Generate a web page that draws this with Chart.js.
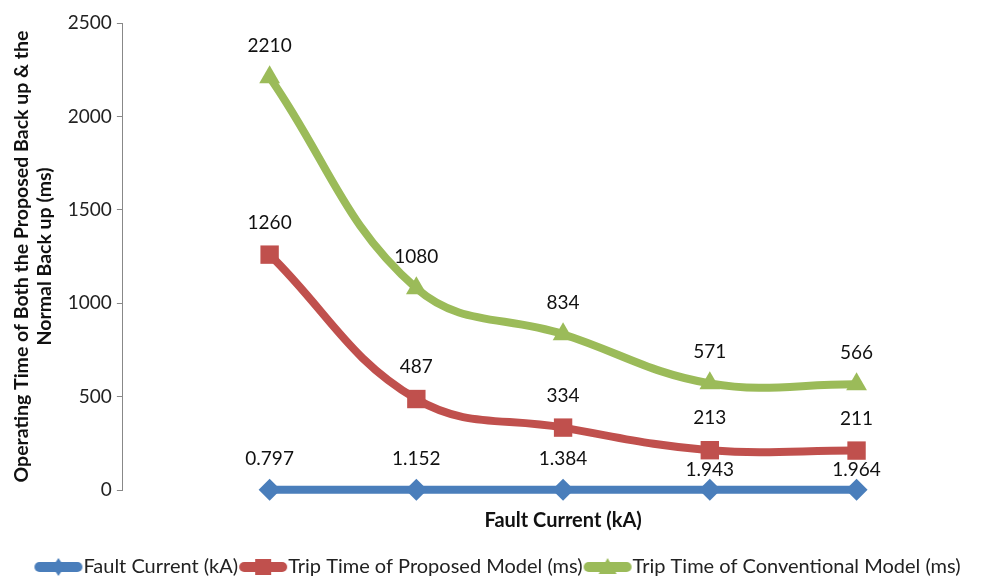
<!DOCTYPE html>
<html>
<head>
<meta charset="utf-8">
<script src="https://cdn.jsdelivr.net/npm/chart.js@4"></script>
<style>
  html, body { margin: 0; padding: 0; background: #fff; }
  #wrap { width: 984px; height: 576px; overflow: hidden; }
</style>
</head>
<body>
<div id="wrap"><canvas id="trip_chart" width="984" height="587"></canvas></div>
<script>
// measurement positions along the x axis (1..5)
const positions = [1, 2, 3, 4, 5];
const faultCurrent = [0.797, 1.152, 1.384, 1.943, 1.964];
const proposedTrip = [1260, 487, 334, 213, 211];
const conventionalTrip = [2210, 1080, 834, 571, 566];
const yTicks = [0, 500, 1000, 1500, 2000, 2500];
const xTitle = 'Fault Current (kA)';

const FONT = 'Lato, "Open Sans", sans-serif';
const BLUE = '#4a7ebb';
const RED = '#c0504d';
const GREEN = '#9bbb59';

// legend swatch: thick line with the series marker in the middle.
// left 10px stay empty so the swatch sits right up against its text
function legendIcon(color, shape) {
    const c = document.createElement('canvas');
    c.width = 60; c.height = 20;
    const g = c.getContext('2d');
    g.strokeStyle = color;
    g.lineWidth = 10;
    g.lineCap = 'round';
    g.beginPath(); g.moveTo(16, 10); g.lineTo(54, 10); g.stroke();
    g.fillStyle = color;
    g.beginPath();
    const cx = 35;
    if (shape === 'rectRot') {
        g.moveTo(cx, 1); g.lineTo(cx + 6, 10); g.lineTo(cx, 19); g.lineTo(cx - 6, 10);
    } else if (shape === 'rect') {
        g.rect(cx - 8, 2, 16, 16);
    } else {
        g.moveTo(cx, 1); g.lineTo(cx + 9, 17); g.lineTo(cx - 9, 17);
    }
    g.closePath(); g.fill();
    return c;
}

const toPoints = (vals) => vals.map((v, i) => ({x: positions[i], y: v}));

// draws each point's value above it, and the x title under the middle point
const valueLabels = {
    id: 'valueLabels',
    afterDatasetsDraw(chart, args, opts) {
        const ctx = chart.ctx;
        ctx.save();
        ctx.font = '19px ' + FONT;
        ctx.fillStyle = '#111';
        ctx.textAlign = 'center';
        ctx.textBaseline = 'middle';
        chart.data.datasets.forEach((ds, di) => {
            const meta = chart.getDatasetMeta(di);
            const lift = opts.lift[di];
            meta.data.forEach((pt, i) => {
                const v = ds.data[i].y;
                const txt = di === 0 ? v.toFixed(3) : String(v);
                ctx.fillText(txt, pt.x, pt.y - lift[i]);
            });
        });
        const xs = chart.scales.x;
        ctx.font = 'bold 20px ' + FONT;
        ctx.fillText(xTitle, xs.getPixelForValue(positions[2]), chart.chartArea.bottom + 31);
        ctx.restore();
    }
};

const ctx = document.getElementById('trip_chart').getContext('2d');
const tripChart = new Chart(ctx, {
    type: 'line',
    data: {
        datasets: [
            {
                label: 'Fault Current (kA)',
                data: toPoints(faultCurrent),
                borderColor: BLUE,
                backgroundColor: BLUE,
                pointStyle: 'rectRot',
                pointRadius: 11,
                legendIcon: legendIcon(BLUE, 'rectRot'),
                clip: false,
                order: 3
            },
            {
                label: 'Trip Time of Proposed Model (ms)',
                data: toPoints(proposedTrip),
                borderColor: RED,
                backgroundColor: RED,
                pointStyle: 'rect',
                pointRadius: 13,
                legendIcon: legendIcon(RED, 'rect'),
                clip: false,
                order: 2
            },
            {
                label: 'Trip Time of Conventional Model (ms)',
                data: toPoints(conventionalTrip),
                borderColor: GREEN,
                backgroundColor: GREEN,
                pointStyle: 'triangle',
                pointRadius: 12,
                legendIcon: legendIcon(GREEN, 'triangle'),
                clip: false,
                order: 1
            }
        ]
    },
    options: {
        responsive: false,
        animation: false,
        layout: { padding: { left: 10, right: 0, top: 23, bottom: 0 } },
        elements: {
            line: { borderWidth: 8, tension: 0.4, borderCapStyle: 'round' },
            point: { hoverRadius: 12, borderWidth: 0 }
        },
        plugins: {
            tooltip: { enabled: false },
            valueLabels: { lift: [[31, 31, 31, 20, 20], [32, 32, 32, 32, 32], [31, 31, 31, 31, 31]] },
            legend: {
                position: 'bottom',
                labels: {
                    usePointStyle: true,
                    pointStyleWidth: 40,
                    padding: 0,
                    color: '#222',
                    font: { family: FONT, size: 20 },
                    generateLabels: (chart) => chart.data.datasets.map((ds, i) => ({
                        text: ds.label,
                        pointStyle: ds.legendIcon,
                        fillStyle: ds.borderColor,
                        strokeStyle: ds.borderColor,
                        lineWidth: 0,
                        fontColor: '#222',
                        datasetIndex: i
                    }))
                }
            }
        },
        scales: {
            x: {
                type: 'linear',
                min: 0,
                max: 5.78,
                grid: { display: false },
                border: { display: false },
                ticks: { display: false },
                // space is kept for the title, which the plugin draws
                title: {
                    display: true,
                    text: xTitle,
                    color: 'rgba(0,0,0,0)',
                    font: { family: FONT, size: 20, weight: 'bold' },
                    padding: { top: 12, bottom: 23 }
                }
            },
            y: {
                min: 0,
                max: 2500,
                afterBuildTicks: (axis) => { axis.ticks = yTicks.map(v => ({value: v})); },
                border: { display: true, color: '#888', width: 1 },
                grid: { display: true, drawOnChartArea: false, drawTicks: true, tickLength: 6, color: '#888' },
                ticks: {
                    color: '#222',
                    font: { family: FONT, size: 19 },
                    padding: 5,
                    callback: (v) => String(v)
                },
                title: {
                    display: true,
                    text: ['Operating Time of Both the Proposed Back up & the', 'Normal Back up (ms)'],
                    color: '#111',
                    font: { family: FONT, size: 19.5, weight: 'bold' },
                    padding: { top: 0, bottom: 6 }
                }
            }
        }
    },
    plugins: [valueLabels]
});
</script>
</body>
</html>
